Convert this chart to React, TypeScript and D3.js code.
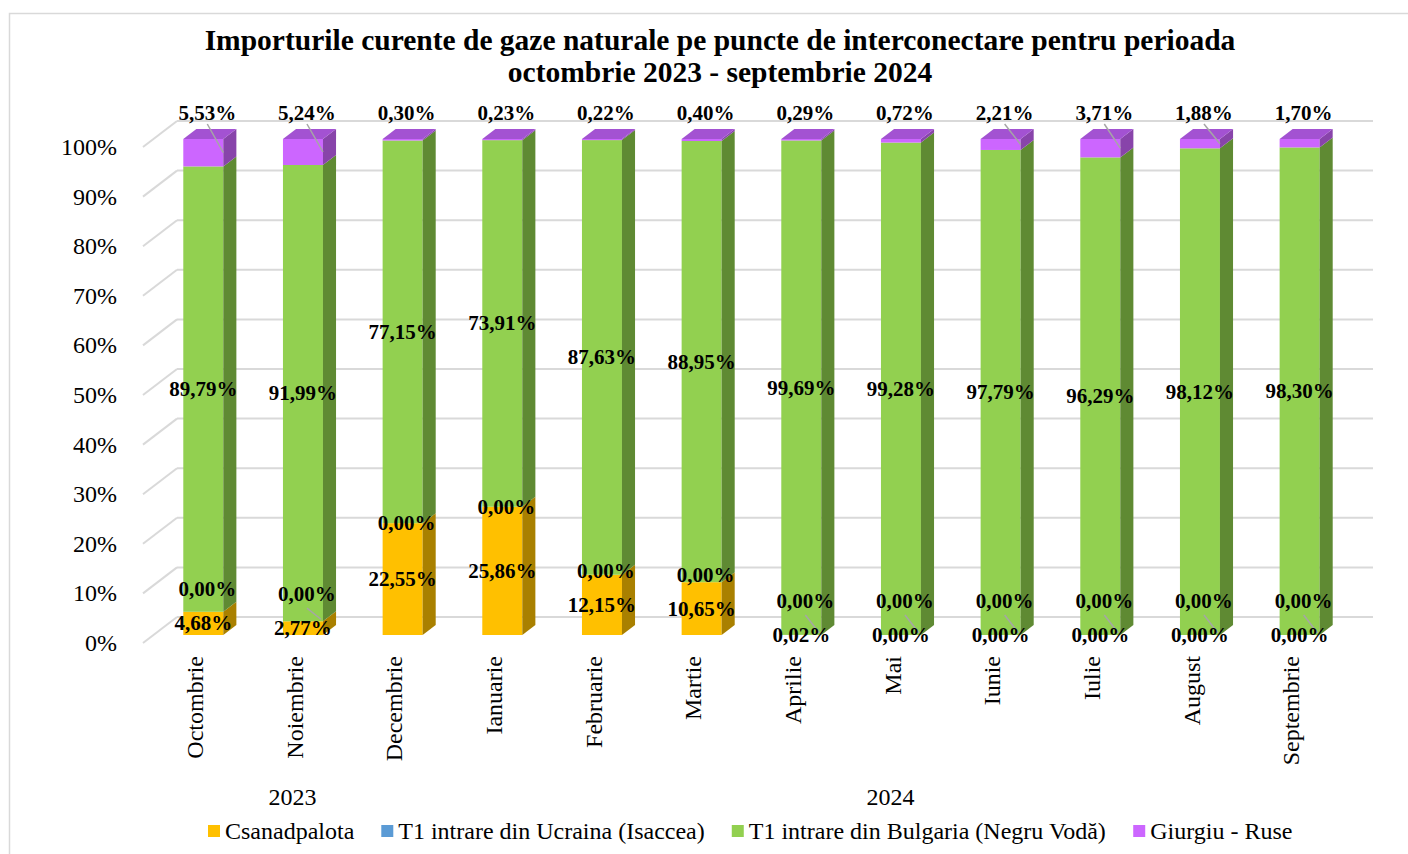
import React from 'react';
import * as d3 from 'd3';

const months = ['Octombrie', 'Noiembrie', 'Decembrie', 'Ianuarie', 'Februarie', 'Martie', 'Aprilie', 'Mai', 'Iunie', 'Iulie', 'August', 'Septembrie'];
const yearLabels = ['2023', '2024'];
const yearFirstMonth = [0, 3];
const yearLastMonth = [2, 11];

const seriesNames = ['Csanadpalota', 'T1 intrare din Ucraina (Isaccea)', 'T1 intrare din Bulgaria (Negru Vodă)', 'Giurgiu - Ruse'];
const csanadpalota = [4.68, 2.77, 22.55, 25.86, 12.15, 10.65, 0.02, 0.0, 0.0, 0.0, 0.0, 0.0];
const ucraina = [0, 0, 0, 0, 0, 0, 0, 0, 0, 0, 0, 0];
const bulgaria = [89.79, 91.99, 77.15, 73.91, 87.63, 88.95, 99.69, 99.28, 97.79, 96.29, 98.12, 98.3];
const giurgiu = [5.53, 5.24, 0.3, 0.23, 0.22, 0.4, 0.29, 0.72, 2.21, 3.71, 1.88, 1.7];
const yTicks = [0, 10, 20, 30, 40, 50, 60, 70, 80, 90, 100];

const titleLines = ['Importurile curente de gaze naturale pe puncte de interconectare pentru perioada', 'octombrie 2023 - septembrie 2024'];

const frontColors = ['#FFC000', '#5B9BD5', '#92D050', '#CC66FF'];
const sideColors = ['#A98000', '#3C6A94', '#5F8A33', '#8844AA'];
const topColors = ['#CC9A00', '#4A7DB0', '#75A840', '#A352D2'];

const FONT = "'Liberation Serif', 'Times New Roman', Times, serif";
const W = 1408;
const H = 854;
const DX = 34;
const DY = 26;
const Z0 = 8 / 26;
const Z1 = 18 / 26;
const BAR_W = 40;

const fmt = (v: number) => d3.format('.2f')(v).replace('.', ',') + '%';

export default function App() {
  const rows = months.map((m, i) => ({ month: m, s0: csanadpalota[i], s1: ucraina[i], s2: bulgaria[i], s3: giurgiu[i] }));
  const keys = ['s0', 's1', 's2', 's3'];
  const stacked = d3.stack<any>().keys(keys)(rows);

  const x = d3.scaleBand<string>().domain(months).range([143, 1339]).padding(0);
  const y = d3.scaleLinear().domain([0, 100]).range([643, 147]);

  const fy = (v: number) => y(v) - Z0 * DY; // bar front plane
  const bdx = (Z1 - Z0) * DX;
  const bdy = (Z1 - Z0) * DY;
  const frontCenter = (m: string) => (x(m) as number) + x.bandwidth() / 2 + Z0 * DX;

  const gridColor = '#D9D9D9';

  const bars: React.ReactNode[] = [];
  const labels: React.ReactNode[] = [];
  const leaders: React.ReactNode[] = [];

  months.forEach((m, i) => {
    const cx = frontCenter(m);
    const x0 = cx - BAR_W / 2;
    const x1 = cx + BAR_W / 2;
    stacked.forEach((s, si) => {
      const [v0, v1] = s[i];
      if (v1 - v0 <= 0) return;
      const yb = fy(v0);
      const yt = fy(v1);
      bars.push(
        <rect key={`f${i}-${si}`} x={x0} y={yt} width={BAR_W} height={yb - yt} fill={frontColors[si]} />
      );
      bars.push(
        <polygon key={`s${i}-${si}`} points={`${x1},${yb} ${x1},${yt} ${x1 + bdx},${yt - bdy} ${x1 + bdx},${yb - bdy}`} fill={sideColors[si]} />
      );
    });
    let topIdx = 0;
    stacked.forEach((s, si) => { if (s[i][1] - s[i][0] > 0) topIdx = si; });
    const ytop = fy(stacked[3][i][1]);
    bars.push(
      <polygon key={`t${i}`} points={`${x0},${ytop} ${x1},${ytop} ${x1 + bdx},${ytop - bdy} ${x0 + bdx},${ytop - bdy}`} fill={topColors[topIdx]} />
    );

    const cs = stacked[0][i];
    const csY = fy((cs[0] + cs[1]) / 2);
    const bu = stacked[2][i];
    const buY = fy((bu[0] + bu[1]) / 2);
    const gi = stacked[3][i];
    const giY = fy(100) - 26;
    const giX = cx + 4;
    const ucTop = fy(cs[1]);
    const ucY = Math.min(ucTop, csY - 34);
    const ucX = cx + 4;

    const lab = (key: string, lx: number, ly: number, v: number) => (
      <text key={key} x={lx} y={ly} textAnchor="middle" dominantBaseline="central" fontFamily={FONT} fontWeight="bold" fontSize={21} fill="#000">{fmt(v)}</text>
    );
    labels.push(lab(`lc${i}`, cx, csY, csanadpalota[i]));
    labels.push(lab(`lu${i}`, ucX, ucY, ucraina[i]));
    labels.push(lab(`lb${i}`, cx, buY, bulgaria[i]));
    labels.push(lab(`lg${i}`, giX, giY, giurgiu[i]));

    if (giurgiu[i] >= 1.8) {
      const my = fy((gi[0] + gi[1]) / 2);
      leaders.push(<line key={`ll${i}`} x1={giX} y1={giY + 11} x2={x1} y2={my} stroke="#A6A6A6" strokeWidth={1.5} />);
    }
    if (ucTop - ucY > 25) {
      leaders.push(<line key={`lu${i}`} x1={ucX} y1={ucY + 14} x2={x1 - 2} y2={ucTop - 2} stroke="#A6A6A6" strokeWidth={1.5} />);
    }
  });

  const measure = (t: string) => {
    const c = document.createElement('canvas').getContext('2d');
    if (!c) return t.length * 11;
    c.font = `24px ${FONT}`;
    return c.measureText(t).width;
  };
  const legendItems: { name: string; x: number; color: string }[] = [];
  let lx = 208;
  seriesNames.forEach((n, i) => {
    legendItems.push({ name: n, x: lx, color: frontColors[i] });
    lx += 17 + measure(n) + 27;
  });

  return (
    <svg width={W} height={H} style={{ position: 'absolute', left: 0, top: 0, background: '#fff' }}>
      <rect x={9.5} y={13.5} width={1420} height={900} fill="#fff" stroke="#D9D9D9" strokeWidth={1.5} />
      {titleLines.map((t, i) => (
        <text key={t} x={720} y={50 + i * 32} textAnchor="middle" fontFamily={FONT} fontWeight="bold" fontSize={29.5} fill="#000">{t}</text>
      ))}
      {yTicks.map((t) => (
        <g key={`g${t}`}>
          <line x1={143} y1={y(t)} x2={143 + DX} y2={y(t) - DY} stroke={gridColor} strokeWidth={2} />
          <line x1={143 + DX} y1={y(t) - DY} x2={1339 + DX} y2={y(t) - DY} stroke={gridColor} strokeWidth={2} />
          <text x={117} y={y(t)} textAnchor="end" dominantBaseline="central" fontFamily={FONT} fontSize={24} fill="#000">{t}%</text>
        </g>
      ))}
      {bars}
      {leaders}
      {labels}
      {months.map((m) => {
        const cx = (x(m) as number) + x.bandwidth() / 2 + 2;
        return (
          <text key={`m${m}`} transform={`translate(${cx},656) rotate(-90)`} textAnchor="end" dominantBaseline="central" fontFamily={FONT} fontSize={24} fill="#000">{m}</text>
        );
      })}
      {yearLabels.map((yl, i) => {
        const a = (x(months[yearFirstMonth[i]]) as number) + x.bandwidth() / 2;
        const b = (x(months[yearLastMonth[i]]) as number) + x.bandwidth() / 2;
        return (
          <text key={yl} x={(a + b) / 2} y={797} textAnchor="middle" dominantBaseline="central" fontFamily={FONT} fontSize={24} fill="#000">{yl}</text>
        );
      })}
      {legendItems.map((it) => (
        <g key={it.name}>
          <rect x={it.x} y={825} width={12} height={12} fill={it.color} />
          <text x={it.x + 17} y={831} dominantBaseline="central" fontFamily={FONT} fontSize={24} fill="#000">{it.name}</text>
        </g>
      ))}
    </svg>
  );
}
